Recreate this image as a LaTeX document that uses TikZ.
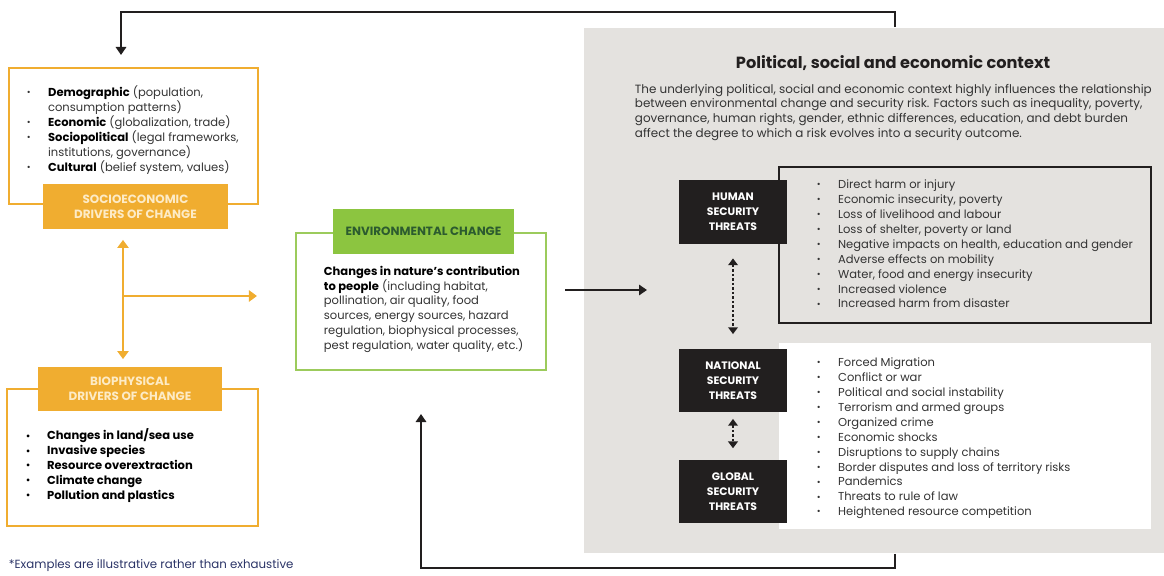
\documentclass[tikz,border=0pt]{standalone}
\usepackage{fontspec}
\setmainfont{Poppins}
\usepackage{graphicx}
\usetikzlibrary{positioning,arrows.meta}

\definecolor{drvorange}{HTML}{F0AD30}
\definecolor{drvcream}{HTML}{FDEBC6}
\definecolor{envgreen}{HTML}{8CC540}
\definecolor{envline}{HTML}{9CCB5C}
\definecolor{envdark}{HTML}{2C5B2F}
\definecolor{ctxgrey}{HTML}{E4E2DF}
\definecolor{threatblack}{HTML}{221F1F}
\definecolor{bodygrey}{HTML}{333333}
\definecolor{notenavy}{HTML}{2B3467}

\newcommand{\bul}{\makebox[0.53cm][l]{\raisebox{0.12ex}{\scalebox{0.8}{\textbullet}}}}
\newcommand{\ind}{\makebox[0.53cm]{}}
\newcommand{\hl}[1]{\textcolor{black}{\textbf{#1}}}
\newcommand{\bodyfont}{\fontsize{8.2}{10.6}\selectfont}

\begin{document}
\begin{tikzpicture}[x=0.025cm, y=-0.025cm, line width=1.3pt,
  drvbox/.style={draw=drvorange, line width=1.4pt, inner sep=0},
  drvlabel/.style={fill=drvorange, text=drvcream, align=center, inner sep=0,
    minimum height=1.125cm, font=\fontsize{8.5}{10.8}\selectfont\bfseries},
  envbox/.style={draw=envline, line width=1.4pt, inner sep=0},
  envlabel/.style={fill=envgreen, text=envdark, inner sep=0,
    font=\fontsize{8.5}{10}\selectfont\bfseries},
  threat/.style={fill=threatblack, text=white, align=center, inner sep=0,
    minimum width=2.7cm, minimum height=1.575cm,
    font=\fontsize{7.7}{10.6}\selectfont\bfseries},
  itemlist/.style={anchor=north west, inner sep=0, align=left,
    text=bodygrey, font=\bodyfont},
  drvarrow/.style={draw=drvorange, line width=1.3pt},
  fbarrow/.style={draw=threatblack, line width=1.3pt,
    -{Triangle[length=0.2cm, width=0.26cm]}},
  threatlink/.style={draw=threatblack, line width=1.3pt,
    dash pattern=on 1.6pt off 1.6pt,
    {Triangle[length=0.17cm, width=0.24cm]}-{Triangle[length=0.17cm, width=0.24cm]}}]

  \useasboundingbox (0,0) rectangle (1164,576);

  % ---------- socioeconomic drivers ----------
  \node[drvbox, minimum width=6.225cm, minimum height=3.4cm] (socio) at (133.5,136) {};
  \node[drvlabel, minimum width=4.625cm] (sociolbl) at (135.5,206.5) {SOCIOECONOMIC\\DRIVERS OF CHANGE};
  \node[itemlist] (socioitems) at (26,85) {%
    \bul\hl{Demographic} (population,\\
    \ind consumption patterns)\\
    \bul\hl{Economic} (globalization, trade)\\
    \bul\hl{Sociopolitical} (legal frameworks,\\
    \ind institutions, governance)\\
    \bul\hl{Cultural} (belief system, values)};

  % ---------- biophysical drivers ----------
  \node[drvbox, minimum width=6.275cm, minimum height=3.425cm] (bio) at (132.5,457.5) {};
  \node[drvlabel, minimum width=4.6cm, minimum height=1.1cm] (biolbl) at (130,389) {BIOPHYSICAL\\DRIVERS OF CHANGE};
  \node[itemlist, text=black, font=\bodyfont\bfseries] (bioitems) at (25,428) {%
    \bul Changes in land/sea use\\
    \bul Invasive species\\
    \bul Resource overextraction\\
    \bul Climate change\\
    \bul Pollution and plastics};

  % ---------- environmental change ----------
  \node[envbox, minimum width=6.25cm, minimum height=3.425cm] (env) at (421,301.5) {};
  \node[envlabel, minimum width=4.525cm, minimum height=1.125cm] (envlbl) at (423.5,231.5) {ENVIRONMENTAL CHANGE};
  \node[itemlist] (envtext) at (323,265) {%
    \hl{Changes in nature’s contribution}\\
    \hl{to people} (including habitat,\\
    pollination, air quality, food\\
    sources, energy sources, hazard\\
    regulation, biophysical processes,\\
    pest regulation, water quality, etc.)};

  % ---------- political, social and economic context ----------
  \node[fill=ctxgrey, inner sep=0, minimum width=14.49cm, minimum height=13.125cm] (ctx) at (874.25,290.5) {};
  \node[font=\fontsize{11.5}{13}\selectfont\bfseries, text=threatblack] (ctxtitle) at (893,63) {Political, social and economic context};
  \node[itemlist, font=\fontsize{8.5}{10.6}\selectfont] (ctxtext) at (634,83) {%
    The underlying political, social and economic context highly influences the relationship\\
    between environmental change and security risk. Factors such as inequality, poverty,\\
    governance, human rights, gender, ethnic differences, education, and debt burden\\
    affect the degree to which a risk evolves into a security outcome.};

  \node[draw=threatblack, line width=1.4pt, inner sep=0, minimum width=9.3cm, minimum height=3.9cm] (humanbox) at (965,245) {};
  \node[fill=white, inner sep=0, minimum width=9.3cm, minimum height=4.65cm] (statebox) at (965,436) {};

  \node[threat] (human) at (733,212) {HUMAN\\SECURITY\\THREATS};
  \node[threat] (national) at (733,380.5) {NATIONAL\\SECURITY\\THREATS};
  \node[threat] (global) at (733,491.5) {GLOBAL\\SECURITY\\THREATS};

  \node[itemlist] (humanitems) at (816,179) {%
    \bul Direct harm or injury\\
    \bul Economic insecurity, poverty\\
    \bul Loss of livelihood and labour\\
    \bul Loss of shelter, poverty or land\\
    \bul Negative impacts on health, education and gender\\
    \bul Adverse effects on mobility\\
    \bul Water, food and energy insecurity\\
    \bul Increased violence\\
    \bul Increased harm from disaster};
  \node[itemlist] (stateitems) at (816,357) {%
    \bul Forced Migration\\
    \bul Conflict or war\\
    \bul Political and social instability\\
    \bul Terrorism and armed groups\\
    \bul Organized crime\\
    \bul Economic shocks\\
    \bul Disruptions to supply chains\\
    \bul Border disputes and loss of territory risks\\
    \bul Pandemics\\
    \bul Threats to rule of law\\
    \bul Heightened resource competition};

  \node[anchor=west, inner sep=0, text=notenavy, font=\fontsize{8.4}{9}\selectfont] (note) at (8,566) {*Examples are illustrative rather than exhaustive};

  % ---------- connectors ----------
  \coordinate (drvsplit) at (123,296);
  \coordinate (fbcol) at (895,0);
  \coordinate (sociotop) at (121,55);
  \coordinate (envret) at (421,414);
  \coordinate (ctxin) at (647,290);

  \draw[drvarrow, {Triangle[length=0.2cm, width=0.28cm]}-{Triangle[length=0.2cm, width=0.28cm]},
    shorten <=0.25cm, shorten >=0.175cm] (sociolbl.south -| drvsplit) -- (biolbl.north -| drvsplit);
  \draw[drvarrow, -{Triangle[length=0.2cm, width=0.28cm]}, shorten >=0.95cm] (drvsplit) -- (env.west |- drvsplit);

  \draw[fbarrow, shorten <=0.45cm] (env.east |- ctxin) -- (ctxin);
  \draw[fbarrow] (ctx.north -| fbcol) -- ++(0,-15) -| (sociotop);
  \draw[fbarrow] (ctx.south -| fbcol) -- ++(0,14) -| (envret);

  \draw[threatlink, shorten <=0.35cm, shorten >=0.35cm] (human.south) -- (national.north);
  \draw[threatlink, shorten <=0.15cm, shorten >=0.27cm] (national.south) -- (global.north);

\end{tikzpicture}
\end{document}
